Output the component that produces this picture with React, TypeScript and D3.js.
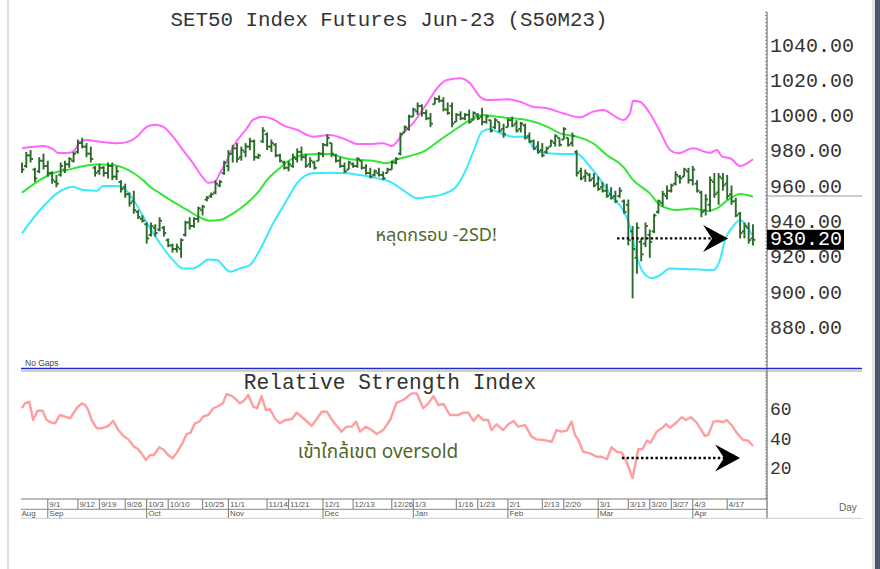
import React from "react";
import * as d3 from "d3";

const title = "SET50 Index Futures Jun-23 (S50M23)";
const rsiTitle = "Relative Strength Index";
const priceTicks = [880, 900, 920, 940, 960, 980, 1000, 1020, 1040];
const rsiTicks = [20, 40, 60];
const lastPrice = 930.2;

// one bar per trading day: [open, high, low, close]
const bars: [number, number, number, number][] = [
  [972, 974, 968, 970], [972, 980, 971, 978], [978, 981, 974, 976], [970, 971, 963, 965],
  [969, 977, 968, 975], [975, 979, 970, 972], [972, 975, 966, 968], [968, 969, 962, 964],
  [963, 967, 960, 962], [967, 974, 966, 972], [970, 975, 968, 973], [973, 977, 971, 976],
  [975, 980, 974, 979], [980, 987, 979, 985], [985, 988, 982, 983], [983, 985, 977, 979],
  [979, 983, 974, 976], [971, 972, 966, 968], [969, 973, 967, 971], [971, 972, 966, 968],
  [968, 974, 965, 972], [972, 974, 964, 966], [966, 972, 964, 969], [963, 964, 957, 959],
  [960, 962, 954, 956], [956, 957, 949, 951], [952, 958, 945, 947], [946, 947, 942, 943],
  [942, 944, 940, 941], [939, 940, 928, 931], [933, 940, 932, 938], [937, 939, 932, 934],
  [936, 943, 935, 941], [937, 938, 932, 934], [930, 931, 926, 927], [927, 928, 923, 925],
  [925, 928, 923, 926], [925, 931, 920, 930], [933, 941, 932, 940], [940, 943, 936, 938],
  [938, 943, 937, 942], [942, 949, 940, 948], [947, 950, 944, 949], [953, 955, 952, 954],
  [955, 957, 954, 956], [957, 964, 956, 962], [961, 964, 960, 963], [968, 975, 967, 974],
  [972, 981, 969, 979], [979, 984, 974, 982], [982, 985, 974, 976], [977, 983, 975, 981],
  [980, 985, 977, 983], [983, 988, 981, 986], [986, 987, 975, 977], [977, 979, 976, 978],
  [986, 994, 985, 992], [990, 991, 981, 983], [983, 987, 980, 985], [984, 985, 977, 978],
  [978, 979, 974, 975], [974, 975, 970, 971], [971, 975, 969, 973], [972, 979, 971, 977],
  [976, 982, 974, 980], [980, 983, 975, 977], [977, 979, 971, 972], [973, 977, 971, 975],
  [974, 975, 970, 971], [975, 980, 975, 979], [979, 985, 977, 984], [984, 990, 983, 988],
  [985, 985, 977, 979], [978, 979, 974, 975], [975, 977, 971, 972], [972, 974, 968, 969],
  [970, 975, 970, 974], [973, 974, 971, 972], [972, 977, 971, 976], [975, 975, 970, 971],
  [971, 973, 967, 968], [968, 971, 965, 966], [967, 970, 966, 969], [968, 971, 966, 967],
  [967, 969, 964, 965], [968, 971, 968, 970], [970, 975, 970, 974], [974, 977, 973, 976],
  [979, 991, 978, 990], [991, 995, 991, 994], [993, 1001, 992, 1000], [1000, 1005, 1000, 1004],
  [1003, 1008, 1001, 1006], [1006, 1007, 1000, 1002], [1002, 1004, 998, 999], [999, 1002, 994, 996],
  [1007, 1011, 1007, 1010], [1010, 1012, 1008, 1009], [1009, 1011, 1003, 1004], [1004, 1008, 1001, 1002],
  [1006, 1008, 994, 996], [997, 1002, 997, 1001], [1001, 1003, 998, 999], [999, 1002, 998, 1001],
  [1001, 1004, 996, 997], [998, 1003, 998, 1002], [1001, 1002, 998, 999], [1000, 1005, 995, 997],
  [997, 1001, 996, 1000], [998, 998, 991, 992], [994, 999, 993, 998], [997, 997, 991, 992],
  [993, 996, 988, 990], [994, 999, 994, 998], [998, 1000, 994, 995], [996, 998, 991, 992],
  [993, 997, 991, 996], [995, 996, 987, 988], [989, 991, 985, 986], [986, 987, 981, 982],
  [983, 986, 979, 980], [981, 985, 977, 978], [980, 983, 979, 982], [983, 987, 983, 986],
  [985, 990, 983, 989], [988, 988, 983, 984], [987, 994, 987, 993], [988, 988, 983, 984],
  [985, 991, 983, 989], [980, 981, 966, 968], [969, 971, 964, 965], [966, 970, 963, 968],
  [967, 968, 963, 964], [965, 968, 960, 961], [962, 966, 958, 959], [960, 963, 957, 958],
  [958, 962, 954, 955], [956, 960, 953, 954], [955, 958, 951, 952], [955, 960, 954, 958],
  [952, 953, 945, 946], [950, 953, 927, 930], [935, 938, 897, 925], [920, 940, 911, 937],
  [929, 931, 918, 922], [928, 940, 926, 938], [933, 936, 920, 929], [935, 945, 934, 944],
  [946, 953, 945, 952], [951, 958, 949, 956], [955, 961, 953, 958], [958, 962, 957, 961],
  [962, 969, 961, 967], [966, 967, 962, 965], [966, 971, 966, 970], [969, 971, 962, 964],
  [964, 972, 961, 970], [962, 964, 957, 958], [957, 958, 943, 946], [947, 956, 944, 953],
  [950, 966, 946, 964], [963, 968, 954, 956], [957, 968, 950, 966], [965, 968, 958, 961],
  [962, 967, 953, 955], [956, 961, 950, 952], [952, 954, 943, 944], [945, 946, 931, 934],
  [935, 940, 931, 938], [937, 940, 928, 930], [931, 939, 927, 930.2],
];

// bollinger bands: [bar index, price]
const upperBand: [number, number][] = [
  [0, 982], [2.6, 982.9], [4.9, 983.3], [7.2, 981.6], [8.4, 979.4], [11.2, 979.5], [12.3, 981.1],
  [13.5, 985.8], [15.1, 986.7], [18.1, 985.8], [22.3, 984.9], [24.7, 985.8], [26.7, 988.6],
  [29.1, 994.3], [30.9, 995.4], [32.8, 994.3], [35.1, 988.6], [37.4, 981.1], [39.8, 973.5],
  [41.9, 966], [43.3, 962.5], [44.9, 963.1], [46, 967.9], [47.7, 975.4], [49.1, 982.9],
  [52.3, 993.4], [53.7, 998.1], [56, 999.9], [58.4, 998.5], [60.7, 995.2], [64, 992.4],
  [67.7, 988.6], [71.6, 989.6], [75.6, 986.7], [77.9, 984.5], [81.6, 984.5], [84, 984.9],
  [86, 983.3], [87.2, 985.8], [88.6, 990.5], [90.9, 996.2], [94.2, 1007.5], [96.5, 1016],
  [98.8, 1020.7], [101.9, 1021.7], [104.2, 1018.9], [106.5, 1011.3], [108.1, 1009.4],
  [112.8, 1009.8], [115.8, 1008.4], [118.8, 1005.6], [122.1, 1004.7], [125.8, 1001.9],
  [129.8, 999.6], [132.8, 1002.8], [135.1, 1003.7], [139.8, 998.1], [141.4, 1001.9],
  [142.1, 1009], [143.7, 1008.4], [146, 1001.9], [148.4, 991.4], [150.7, 981.1], [152.6, 979.2],
  [156, 982], [160, 979.5], [161.6, 981.1], [162.8, 977.3], [164.7, 976.4], [167, 972],
  [168.6, 973.5], [170, 975.8],
];

const middleBand: [number, number][] = [
  [0, 956.9], [1.9, 960.3], [4.2, 964.1], [7.2, 967.9], [10.5, 969.7], [13.5, 971.6],
  [15.8, 972.6], [18.1, 973], [20.5, 972.6], [22.1, 972.2], [24.4, 970.1], [25.8, 968.2],
  [28.1, 964.1], [29.8, 960.3], [32.1, 956.5], [35.1, 951.8], [38.4, 947.1], [41.4, 942.9],
  [43.7, 941], [46, 941.4], [49.1, 945.2], [52.3, 950.9], [55.3, 958.4], [57, 964.1],
  [60, 970.9], [62.3, 975.4], [65.3, 978.2], [68.6, 978.8], [71.6, 978.8], [74, 977.3],
  [76.3, 975.8], [78.6, 975.4], [81.6, 975], [84.9, 973.5], [86.7, 975.4], [89.5, 977.3],
  [93.3, 980.1], [97.2, 986.7], [101.2, 993.4], [104.9, 999], [107.2, 1000.9], [110.5, 999.9],
  [114.2, 999], [117.4, 998.1], [122.1, 994.3], [125.1, 990.5], [129.1, 988.6], [132.8, 984.9],
  [136, 978.2], [139.8, 971.6], [142.1, 964.1], [146, 956.5], [148.4, 949.9], [152.3, 947.1],
  [156, 948], [159.3, 946.5], [161.6, 948], [164.7, 953.7], [167, 956.1], [170, 954.6],
];

const lowerBand: [number, number][] = [
  [0, 933.9], [2.6, 942.4], [4.9, 948.9], [8.1, 956.5], [11.9, 960.3], [14.2, 958.4],
  [17.4, 958], [18.8, 960.7], [22.1, 960.7], [24.4, 957.8], [25.8, 953.3], [29.1, 939.5],
  [32.1, 928.2], [35.1, 918.7], [37.4, 914], [39.8, 914], [41.4, 915.9], [43.3, 919.1],
  [45.3, 918.7], [48.4, 912.1], [50.7, 914], [53, 915.9], [55.3, 924.4], [58.4, 939.5],
  [61.6, 952.7], [64, 962.5], [67.7, 967.9], [71.6, 968.2], [75.6, 967.9], [78.6, 966.9],
  [82.6, 965], [85.6, 963.1], [88.6, 958.4], [91.9, 953.7], [94.9, 954.6], [97.9, 956.1],
  [100.7, 959.5], [103, 968.6], [105.3, 982.2], [106.9, 991.3], [108.8, 993], [110.5, 991.4],
  [114.2, 988.6], [117.4, 988.6], [118.8, 982.9], [122.1, 979.2], [125.8, 978.8], [129.1, 978.8],
  [132.1, 971.6], [135.1, 962.2], [137.4, 953.9], [139.8, 947.1], [141.4, 937.6], [143, 920.6],
  [144.4, 912.1], [146.5, 908.4], [148.4, 910.2], [150.7, 914], [156, 913.5], [160.7, 913.1],
  [162.3, 918.7], [163.5, 930.1], [165.3, 937.6], [167, 941.4], [168.6, 937.6], [170, 932],
];

// RSI: [bar index, value]
const rsi: [number, number][] = [
  [0, 61.2], [0.7, 64.5], [1.7, 65.6], [2.6, 53.2], [3.6, 59.5], [4.8, 59.5], [5.7, 53.2],
  [6.9, 51.4], [7.7, 51], [8.8, 56.6], [10, 55.5], [11.2, 54.4], [12.7, 61.2], [13.9, 64.5],
  [14.7, 63.4], [15.4, 60], [16.2, 53.2], [17.4, 47.6], [18.5, 47.6], [20.1, 49.2], [21.2, 52.7],
  [22.4, 46.4], [23.6, 42.4], [24.7, 40.1], [25.9, 35.6], [27, 33.4], [27.8, 30.6], [28.8, 26.1],
  [29.8, 29.5], [30.7, 29.5], [31.9, 34.7], [33, 32.9], [34, 29.5], [35, 27.3], [36, 31.1],
  [37.1, 36.3], [38.3, 43.7], [39.2, 44.6], [40.2, 51], [41.2, 52.1], [42.3, 55.9], [43.3, 56.6],
  [44.5, 61.2], [45.7, 62.7], [46.7, 64.5], [47.6, 70.8], [48.8, 69.5], [49.5, 67.9], [50.7, 64.5],
  [51.6, 66.3], [52.6, 70.2], [53.8, 62.2], [54.7, 61.2], [55.7, 69.5], [56.7, 60], [57.7, 60.5],
  [58.8, 54.4], [60, 51], [61.2, 53.2], [62.7, 53.7], [63.9, 58.2], [65.4, 54.4], [67.4, 49.2],
  [69.7, 58.8], [70.9, 58.8], [72.4, 52.1], [74.3, 45.3], [75.5, 48.7], [76.7, 48.7], [77.7, 52.1],
  [78.6, 45.3], [80, 48.7], [81.3, 46.4], [82.5, 43.7], [84, 46.4], [85.6, 53.2], [87.1, 64.9],
  [88.7, 66.8], [90.6, 71.3], [91.8, 71.3], [93.3, 61.2], [94.5, 64.5], [95.7, 69.5], [96.8, 63.4],
  [98, 64.1], [99.5, 56.6], [101.5, 56.6], [102.6, 58.2], [103.8, 58.2], [105, 52.5], [106.1, 56.6],
  [107.3, 53.2], [108.4, 53.2], [109.2, 46.4], [110.4, 50.3], [111.9, 46.4], [113.1, 50.3],
  [114.3, 52.5], [115.4, 48.7], [117, 49.8], [118.5, 41.9], [119.7, 40.1], [121.2, 39.7],
  [123.2, 38.5], [124.3, 46.4], [125.5, 45.3], [126.7, 46], [127.8, 52.1], [128.6, 43.1],
  [129.4, 39.7], [130.5, 31.7], [132.1, 30.6], [133.6, 28.3], [134.8, 28.3], [136, 26.6],
  [137.1, 34.7], [138.3, 31.7], [139.5, 31.1], [140.6, 24.9], [142, 13.7], [143.3, 33.4],
  [144.3, 33.4], [145.3, 39.2], [146.2, 37.8], [147.6, 45.3], [148.8, 47.6], [149.8, 50.5],
  [150.7, 48], [152, 51], [153.4, 55.1], [154.4, 53.2], [155.5, 55.1], [156.9, 51.4], [158.8, 42.4],
  [159.6, 43.1], [160.8, 52.1], [161.9, 52.5], [163.1, 51.7], [163.9, 53.2], [165, 49.8],
  [166.2, 44.6], [167.7, 39.7], [168.9, 39.2], [170, 35.6],
];

const dayLabels = ["9/1", "9/12", "9/19", "9/26", "10/3", "10/10", "10/25", "11/1", "11/14", "11/21", "12/1", "12/13", "12/26", "1/3", "1/16", "1/23", "2/1", "2/13", "2/20", "3/1", "3/13", "3/20", "3/27", "4/3", "4/17"];
const dayIdx = [6, 13, 18, 24, 29, 34, 42, 48, 57, 62, 70, 77, 86, 91, 101, 106, 113, 121, 126, 134, 141, 146, 151, 156, 164];
const monthLabels = ["Sep", "Oct", "Nov", "Dec", "Jan", "Feb", "Mar", "Apr"];
const monthIdx = [6, 29, 48, 70, 91, 113, 134, 156];

const mono = "'Liberation Mono', 'Courier New', monospace";
const thai = "Tahoma, 'Noto Sans Thai', 'Leelawadee UI', 'Noto Sans', sans-serif";
const small = "'Liberation Sans', Arial, sans-serif";

const L = 21, R = 767;
const x = d3.scaleLinear().domain([0, 170]).range([22, 753]);
const y = d3.scaleLinear().domain([880, 1040]).range([328.4, 46]);
const yr = d3.scaleLinear().domain([0, 60]).range([498.5, 410]);

const band = d3.line<[number, number]>().x((d) => x(d[0])).y((d) => y(d[1])).curve(d3.curveMonotoneX);
const rsiLine = d3.line<[number, number]>().x((d) => x(d[0])).y((d) => yr(d[1]));

const Arrow = ({ x0, x1, yy }: { x0: number; x1: number; yy: number }) => (
  <g>
    <line x1={x0} x2={x1 - 16} y1={yy} y2={yy} stroke="#000" strokeWidth={2.4} strokeDasharray="2.4,2.4" />
    <path d={`M${x1},${yy} L${x1 - 25},${yy - 13.5} L${x1 - 16},${yy} L${x1 - 25},${yy + 13.5} Z`} fill="#000" />
  </g>
);

export default function App() {
  const minor = d3.range(12, 368, 3.53);
  const minorR = d3.range(372, 499, 3);
  return (
    <svg width={880} height={569} style={{ position: "absolute", left: 0, top: 0, background: "#fff" }}>
      <rect width={880} height={569} fill="#fff" />
      <line x1={8} x2={8} y1={0} y2={569} stroke="#dcdcdc" strokeWidth={2} />
      <rect x={872} y={0} width={3} height={569} fill="#e4e4e4" />
      <rect x={875} y={0} width={5} height={569} fill="#4d566b" />
      <defs>
        <clipPath id="up"><rect x={L} y={12} width={R - L} height={356} /></clipPath>
        <clipPath id="lo"><rect x={L} y={372} width={R - L} height={127} /></clipPath>
      </defs>

      <text x={389} y={20} fontFamily={mono} fontSize={20.8} fill="#333" textAnchor="middle" dominantBaseline="central">{title}</text>

      <g clipPath="url(#up)" fill="none">
        <path d={band(upperBand) || ""} stroke="#ff66ff" strokeWidth={2} />
        <path d={band(middleBand) || ""} stroke="#33e633" strokeWidth={2} />
        <path d={band(lowerBand) || ""} stroke="#3ae8ff" strokeWidth={2} />
        <g stroke="#2b6a2b" strokeWidth={1.9}>
          {bars.map((b, i) => (
            <g key={i}>
              <line x1={x(i)} x2={x(i)} y1={y(b[1])} y2={y(b[2])} />
              <line x1={x(i) - 2.4} x2={x(i)} y1={y(b[0])} y2={y(b[0])} />
              <line x1={x(i)} x2={x(i) + 2.4} y1={y(b[3])} y2={y(b[3])} />
            </g>
          ))}
        </g>
      </g>

      <text x={x(96.3)} y={y(932.9)} fontFamily={thai} fontSize={18} fill="#506830" textAnchor="middle" dominantBaseline="central">หลุดกรอบ -2SD!</text>
      <Arrow x0={x(138.4)} x1={x(164.2)} yy={y(931)} />

      {/* right price axis */}
      <line x1={R} x2={R} y1={12} y2={518} stroke="#555" strokeWidth={1} />
      {minor.map((v, i) => <line key={i} x1={R - 2} x2={R} y1={v} y2={v} stroke="#777" strokeWidth={0.8} />)}
      {minorR.map((v, i) => <line key={"r" + i} x1={R - 2} x2={R} y1={v} y2={v} stroke="#777" strokeWidth={0.8} />)}
      {priceTicks.map((t) => (
        <text key={t} x={770} y={y(t)} fontFamily={mono} fontSize={20} fill="#333" dominantBaseline="central">{t.toFixed(2)}</text>
      ))}
      <line x1={R} x2={862} y1={196} y2={196} stroke="#999" strokeWidth={1.2} />
      <rect x={R} y={y(lastPrice) - 10} width={77} height={20} fill="#000" />
      <text x={770} y={y(lastPrice)} fontFamily={mono} fontSize={20} fill="#fff" dominantBaseline="central">{lastPrice.toFixed(2)}</text>

      <text x={25} y={366} fontFamily={small} fontSize={8.5} fill="#444">No Gaps</text>
      <line x1={L} x2={862} y1={368.5} y2={368.5} stroke="#1f2fc4" strokeWidth={1.5} />
      <line x1={L} x2={862} y1={371} y2={371} stroke="#a0a0a0" strokeWidth={1.2} />

      {/* RSI panel */}
      <text x={390} y={383} fontFamily={mono} fontSize={21.2} fill="#333" textAnchor="middle" dominantBaseline="central">{rsiTitle}</text>
      <g clipPath="url(#lo)">
        <path d={rsiLine(rsi) || ""} fill="none" stroke="#ff9e9e" strokeWidth={2.4} strokeLinejoin="round" />
      </g>
      <text x={x(82.8)} y={yr(31.5)} fontFamily={thai} fontSize={19} fill="#506830" textAnchor="middle" dominantBaseline="central">เข้าใกล้เขต oversold</text>
      <Arrow x0={x(139.5)} x1={x(167)} yy={yr(27.5)} />
      {rsiTicks.map((t) => (
        <text key={t} x={770} y={yr(t)} fontFamily={mono} fontSize={18} fill="#333" dominantBaseline="central">{t}</text>
      ))}

      {/* date axis */}
      <line x1={L} x2={R} y1={499} y2={499} stroke="#777" strokeWidth={1} />
      <line x1={L} x2={R} y1={509.3} y2={509.3} stroke="#888" strokeWidth={1} />
      <line x1={L} x2={862} y1={518.3} y2={518.3} stroke="#ccc" strokeWidth={1} />
      {dayIdx.map((d, i) => (
        <g key={dayLabels[i]}>
          <line x1={x(d)} x2={x(d)} y1={499} y2={509} stroke="#777" strokeWidth={1} />
          <text x={x(d) + 1.5} y={507} fontFamily={small} fontSize={8} fill="#555">{dayLabels[i]}</text>
        </g>
      ))}
      <text x={L + 0.5} y={516} fontFamily={small} fontSize={8} fill="#555">Aug</text>
      {monthIdx.map((d, i) => (
        <g key={monthLabels[i]}>
          <line x1={x(d)} x2={x(d)} y1={509} y2={518} stroke="#777" strokeWidth={1} />
          <text x={x(d) + 1.5} y={516} fontFamily={small} fontSize={8} fill="#555">{monthLabels[i]}</text>
        </g>
      ))}
      <text x={839} y={511} fontFamily={small} fontSize={10} fill="#666">Day</text>
    </svg>
  );
}
